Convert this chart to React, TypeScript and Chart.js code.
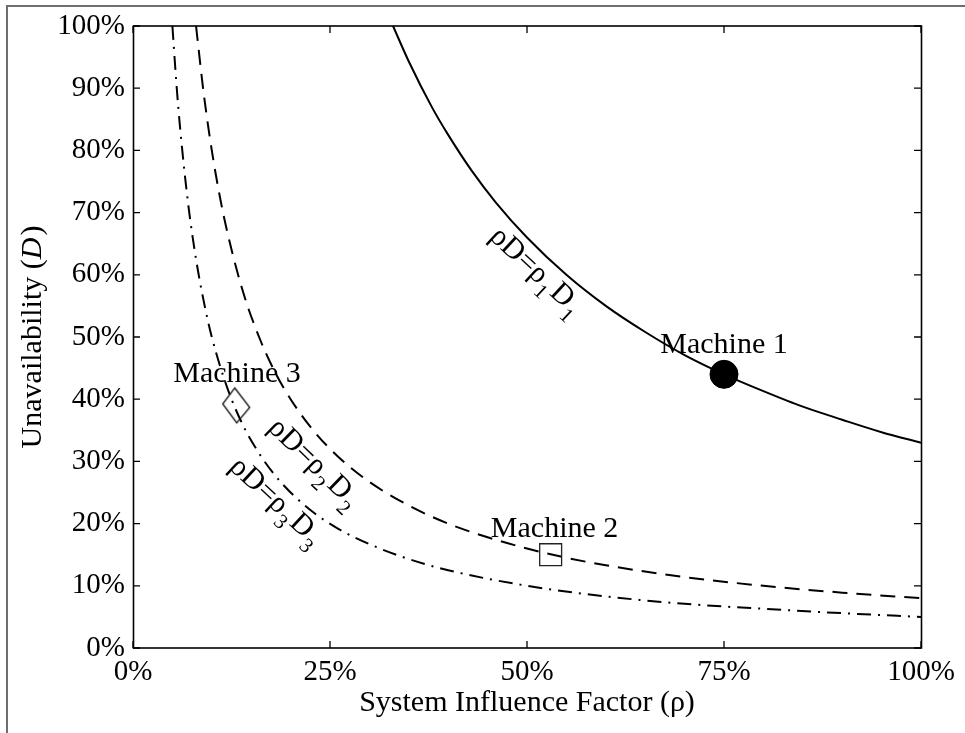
import React, { useEffect, useRef } from "react";
import { Chart, registerables } from "chart.js";

Chart.register(...registerables);

const FONT = "'Liberation Serif', 'Times New Roman', serif";

// Axis ticks (fractions)
const xTickValues = [0, 0.25, 0.5, 0.75, 1];
const yTickValues = [0, 0.1, 0.2, 0.3, 0.4, 0.5, 0.6, 0.7, 0.8, 0.9, 1];

// Curve 1: rho*D = rho1*D1 (solid)
const rho1 = [0.33, 0.35, 0.38, 0.4, 0.43, 0.46, 0.5, 0.55, 0.6, 0.65, 0.7, 0.75, 0.8, 0.85, 0.9, 0.95, 1.0];
const dCurve1 = [1.0, 0.943, 0.868, 0.825, 0.767, 0.717, 0.66, 0.6, 0.55, 0.508, 0.471, 0.44, 0.413, 0.388, 0.367, 0.347, 0.33];

// Curve 2: rho*D = rho2*D2 (dashed)
const rho2 = [0.08, 0.09, 0.1, 0.11, 0.12, 0.14, 0.16, 0.18, 0.2, 0.23, 0.26, 0.3, 0.35, 0.4, 0.45, 0.5, 0.55, 0.6, 0.7, 0.8, 0.9, 1.0];
const dCurve2 = [1.0, 0.889, 0.8, 0.727, 0.667, 0.571, 0.5, 0.444, 0.4, 0.348, 0.308, 0.267, 0.229, 0.2, 0.178, 0.16, 0.145, 0.133, 0.114, 0.1, 0.089, 0.08];

// Curve 3: rho*D = rho3*D3 (dash-dot)
const rho3 = [0.05, 0.055, 0.06, 0.07, 0.08, 0.09, 0.1, 0.12, 0.14, 0.16, 0.18, 0.2, 0.23, 0.26, 0.3, 0.35, 0.4, 0.5, 0.6, 0.7, 0.8, 0.9, 1.0];
const dCurve3 = [1.0, 0.909, 0.833, 0.714, 0.625, 0.556, 0.5, 0.417, 0.357, 0.313, 0.278, 0.25, 0.217, 0.192, 0.167, 0.143, 0.125, 0.1, 0.083, 0.071, 0.063, 0.056, 0.05];

// Machines
const machineNames = ["Machine 1", "Machine 2", "Machine 3"];
const machineRho = [0.75, 0.53, 0.131];
const machineD = [0.44, 0.15, 0.39];
const machineLabelRho = [0.75, 0.535, 0.132];
const machineLabelD = [0.474, 0.178, 0.428];

// Curve labels (baseline start, in data units) and rotation
const curveLabelSub = ["1", "2", "3"];
const curveLabelRho = [0.451, 0.17, 0.121];
const curveLabelD = [0.659, 0.352, 0.289];
const curveLabelAngle = [43, 44, 43];

const yTitleMain = "Unavailability (";
const yTitleItalic = "D";
const yTitleEnd = ")";
const xTitle = "System Influence Factor (ρ)";

const pct = (v: number) => Math.round(v * 100) + "%";
const pts = (xs: number[], ys: number[]) => xs.map((x, i) => ({ x, y: ys[i] }));

function makeDiamond(): HTMLCanvasElement {
  const c = document.createElement("canvas");
  c.width = 32;
  c.height = 40;
  const g = c.getContext("2d")!;
  g.translate(16, 20);
  g.beginPath();
  g.moveTo(-1.5, -17.5);
  g.lineTo(13.5, 2);
  g.lineTo(0.5, 17.5);
  g.lineTo(-13.5, -1.5);
  g.closePath();
  g.lineWidth = 1.3;
  g.strokeStyle = "#111";
  g.stroke();
  return c;
}

function drawCurveLabel(ctx: CanvasRenderingContext2D, px: number, py: number, angleDeg: number, sub: string) {
  ctx.save();
  ctx.translate(px, py);
  ctx.rotate((angleDeg * Math.PI) / 180);
  ctx.textAlign = "left";
  ctx.textBaseline = "alphabetic";
  ctx.fillStyle = "#000";
  const big = `30px ${FONT}`;
  const small = `21px ${FONT}`;
  let x = 0;
  ctx.font = big;
  ctx.fillText("ρD=ρ", x, 0);
  x += ctx.measureText("ρD=ρ").width;
  ctx.font = small;
  ctx.fillText(sub, x + 1, 10);
  x += ctx.measureText(sub).width + 3;
  ctx.font = big;
  ctx.fillText("D", x, 0);
  x += ctx.measureText("D").width;
  ctx.font = small;
  ctx.fillText(sub, x + 1, 10);
  ctx.restore();
}

const figurePlugin = {
  id: "figureDecor",
  beforeDraw(chart: any) {
    const ctx = chart.ctx as CanvasRenderingContext2D;
    ctx.save();
    ctx.fillStyle = "#fff";
    ctx.fillRect(0, 0, chart.width, chart.height);
    ctx.strokeStyle = "#6e6e6e";
    ctx.lineWidth = 2;
    ctx.strokeRect(7, 6, chart.width + 50, chart.height + 50);
    ctx.restore();
  },
  afterDatasetsDraw(chart: any) {
    const ctx = chart.ctx as CanvasRenderingContext2D;
    const a = chart.chartArea;
    const xs = chart.scales.x;
    const ys = chart.scales.y;
    ctx.save();
    // frame
    ctx.strokeStyle = "#000";
    ctx.lineWidth = 1.6;
    ctx.strokeRect(a.left + 0.5, a.top, a.right - a.left, a.bottom - a.top);
    // inward ticks
    const tl = 7;
    ctx.lineWidth = 1.3;
    ctx.beginPath();
    xs.ticks.forEach((t: any) => {
      const p = xs.getPixelForValue(t.value);
      ctx.moveTo(p, a.bottom);
      ctx.lineTo(p, a.bottom - tl);
      ctx.moveTo(p, a.top);
      ctx.lineTo(p, a.top + tl);
    });
    ys.ticks.forEach((t: any) => {
      const p = ys.getPixelForValue(t.value);
      ctx.moveTo(a.left, p);
      ctx.lineTo(a.left + tl, p);
      ctx.moveTo(a.right, p);
      ctx.lineTo(a.right - tl, p);
    });
    ctx.stroke();

    // y title with italic D
    ctx.fillStyle = "#000";
    ctx.textBaseline = "alphabetic";
    ctx.textAlign = "left";
    const normal = `30px ${FONT}`;
    const italic = `italic 30px ${FONT}`;
    ctx.font = normal;
    const w1 = ctx.measureText(yTitleMain).width;
    const w3 = ctx.measureText(yTitleEnd).width;
    ctx.font = italic;
    const w2 = ctx.measureText(yTitleItalic).width + 2;
    const total = w1 + w2 + w3;
    const cy = (a.top + a.bottom) / 2;
    ctx.save();
    ctx.translate(41, cy);
    ctx.rotate(-Math.PI / 2);
    let x0 = -total / 2;
    ctx.font = normal;
    ctx.fillText(yTitleMain, x0, 0);
    x0 += w1;
    ctx.font = italic;
    ctx.fillText(yTitleItalic, x0, 0);
    x0 += w2;
    ctx.font = normal;
    ctx.fillText(yTitleEnd, x0, 0);
    ctx.restore();

    // machine labels
    ctx.font = normal;
    ctx.textAlign = "center";
    machineNames.forEach((n, i) => {
      ctx.fillText(n, xs.getPixelForValue(machineLabelRho[i]), ys.getPixelForValue(machineLabelD[i]));
    });

    // curve labels
    curveLabelSub.forEach((s, i) => {
      drawCurveLabel(ctx, xs.getPixelForValue(curveLabelRho[i]), ys.getPixelForValue(curveLabelD[i]), curveLabelAngle[i], s);
    });
    ctx.restore();
  },
};

export default function App() {
  const ref = useRef<HTMLCanvasElement | null>(null);

  useEffect(() => {
    if (!ref.current) return;
    const diamond = makeDiamond();
    const tickFont = { family: FONT, size: 29 };
    const chart = new Chart(ref.current, {
      type: "scatter",
      data: {
        datasets: [
          {
            label: machineNames[0],
            data: [{ x: machineRho[0], y: machineD[0] }],
            pointStyle: "circle",
            pointRadius: 14,
            backgroundColor: "#000",
            borderColor: "#000",
            borderWidth: 1,
            showLine: false,
            order: 0,
          },
          {
            label: machineNames[1],
            data: [{ x: machineRho[1], y: machineD[1] }],
            pointStyle: "rect",
            pointRadius: 15.5,
            backgroundColor: "rgba(0,0,0,0)",
            borderColor: "#222",
            borderWidth: 1.3,
            showLine: false,
            order: 0,
          },
          {
            label: machineNames[2],
            data: [{ x: machineRho[2], y: machineD[2] }],
            pointStyle: diamond,
            pointRadius: 15,
            showLine: false,
            order: 0,
          },
          {
            label: "rho1 D1",
            data: pts(rho1, dCurve1),
            showLine: true,
            borderColor: "#000",
            borderWidth: 2,
            pointRadius: 0,
            cubicInterpolationMode: "monotone",
            order: 1,
          },
          {
            label: "rho2 D2",
            data: pts(rho2, dCurve2),
            showLine: true,
            borderColor: "#000",
            borderWidth: 2,
            borderDash: [15, 9],
            pointRadius: 0,
            cubicInterpolationMode: "monotone",
            order: 1,
          },
          {
            label: "rho3 D3",
            data: pts(rho3, dCurve3),
            showLine: true,
            borderColor: "#000",
            borderWidth: 2,
            borderDash: [14, 7, 2, 7],
            pointRadius: 0,
            cubicInterpolationMode: "monotone",
            order: 1,
          },
        ],
      },
      options: {
        animation: false,
        responsive: false,
        devicePixelRatio: 1,
        events: [],
        layout: { padding: { left: 0, top: 26, right: 44, bottom: 0 } },
        plugins: { legend: { display: false }, tooltip: { enabled: false } },
        scales: {
          x: {
            type: "linear",
            min: 0,
            max: 1,
            afterBuildTicks: (s: any) => {
              s.ticks = xTickValues.map((v) => ({ value: v }));
            },
            ticks: {
              callback: (v: any) => pct(Number(v)),
              font: tickFont,
              color: "#000",
              padding: 7,
              maxRotation: 0,
              autoSkip: false,
            },
            grid: { display: false, drawTicks: false },
            border: { display: false },
            title: {
              display: true,
              text: xTitle,
              font: { family: FONT, size: 30 },
              color: "#000",
              padding: { top: 0, bottom: 12 },
            },
            afterFit: (s: any) => {
              s.height = 85;
              s.paddingLeft = 0;
              s.paddingRight = 0;
            },
          },
          y: {
            type: "linear",
            min: 0,
            max: 1,
            afterBuildTicks: (s: any) => {
              s.ticks = yTickValues.map((v) => ({ value: v }));
            },
            ticks: {
              callback: (v: any) => pct(Number(v)),
              font: tickFont,
              color: "#000",
              padding: 8,
              autoSkip: false,
            },
            grid: { display: false, drawTicks: false },
            border: { display: false },
            afterFit: (s: any) => {
              s.width = 133;
              s.paddingTop = 0;
              s.paddingBottom = 0;
            },
          },
        },
      },
      plugins: [figurePlugin],
    } as any);
    return () => chart.destroy();
  }, []);

  return (
    <div style={{ position: "fixed", left: 0, top: 0, width: 965, height: 733, background: "#fff" }}>
      <canvas ref={ref} width={965} height={733} style={{ width: 965, height: 733, display: "block" }} />
    </div>
  );
}
